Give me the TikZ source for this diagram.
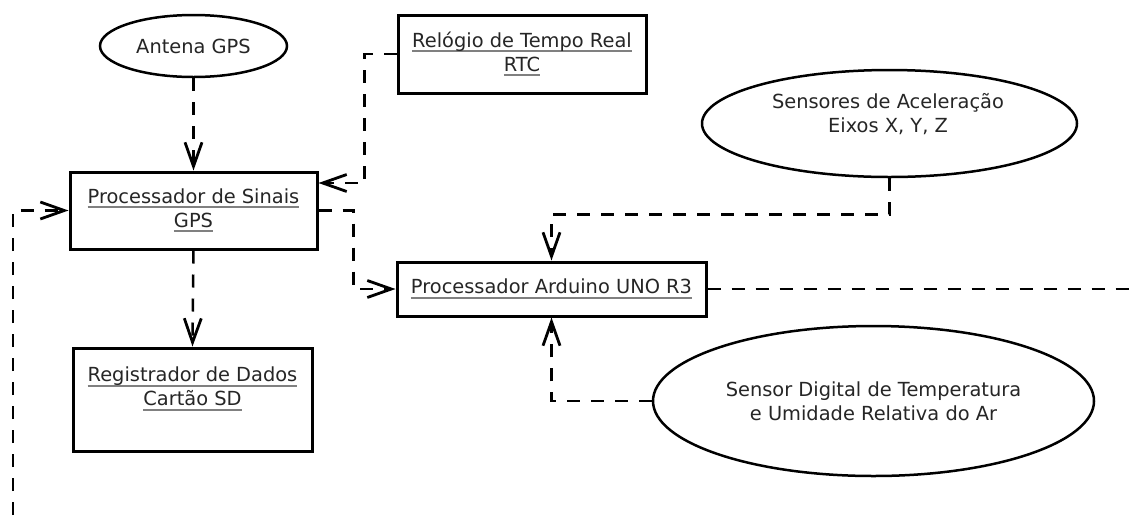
\documentclass[tikz,border=0pt]{standalone}
\usepackage{fontspec}
\setmainfont{DejaVu Sans}
\usetikzlibrary{shapes.geometric,arrows.meta}
\newsavebox\ulbox
\newcommand\ulx[1]{\sbox\ulbox{#1}\rlap{\color{black!50}\rule[-5pt]{\wd\ulbox}{2pt}}\usebox\ulbox}
\tikzset{
  box/.style={draw, line width=3pt, inner sep=0pt, align=center, text=black!85,
    font=\fontsize{19.4}{24}\selectfont},
  oval/.style={draw, ellipse, line width=2.5pt, inner sep=0pt, align=center, text=black!85,
    font=\fontsize{19.4}{24}\selectfont},
  txt/.style={inner sep=0pt, align=center, text=black!85, font=\fontsize{19.4}{24}\selectfont},
  dline/.style={line width=2.5pt, dash pattern=on 13pt off 11pt},
  conn/.style={dline, -{Straight Barb[length=24pt,width=17pt,line width=2.8pt]}}
}
\begin{document}
\begin{tikzpicture}[x=1pt,y=-1pt]
\useasboundingbox (0,0) rectangle (1132,515);
\fill[white] (0,0) rectangle (1132,515);

\node[oval, minimum width=187pt, minimum height=62pt] (ant) at (193.5,46) {Antena GPS};
\node[box, minimum width=247pt, minimum height=77pt] (proc) at (193.5,210.5)
  {\ulx{Processador de Sinais}\\\ulx{GPS}};
\node[box, minimum width=248pt, minimum height=78pt] (rtc) at (522,54)
  {\ulx{Relógio de Tempo Real}\\\ulx{RTC}};
\node[oval, minimum width=375pt, minimum height=107pt] (acc) at (889.5,123.5) {};
\node[txt] (acct) at (888,114.5) {Sensores de Aceleração\\Eixos X, Y, Z};
\node[box, minimum width=309pt, minimum height=54pt] (ard) at (551.5,289)
  {\ulx{Processador Arduino UNO R3}};
\node[box, minimum width=239pt, minimum height=103pt] (reg) at (192.5,399.5) {};
\node[txt] (regt) at (192.5,389) {\ulx{Registrador de Dados}\\\ulx{Cartão SD}};
\node[oval, minimum width=441pt, minimum height=150pt] (dig) at (873.5,401)
  {Sensor Digital de Temperatura\\e Umidade Relativa do Ar};

\coordinate (lb) at (13,515);
\coordinate (re) at (1132,289);

\draw[conn] (ant.south) -- (proc.north);
\draw[conn] (rtc.west) -- ++(-32,0) |- ([yshift=27.5pt]proc.east);
\draw[conn] (proc.east) -- ++(35,0) |- (ard.west);
\draw[conn] (proc.south) -- (reg.north);
\draw[conn] (lb) |- (proc.west);
\draw[dline] (ard.east) -- (re);
\draw[conn] (acc.south) -- ++(0,36) -| (ard.north);
\draw[conn] (dig.west) -| (ard.south);
\end{tikzpicture}
\end{document}
